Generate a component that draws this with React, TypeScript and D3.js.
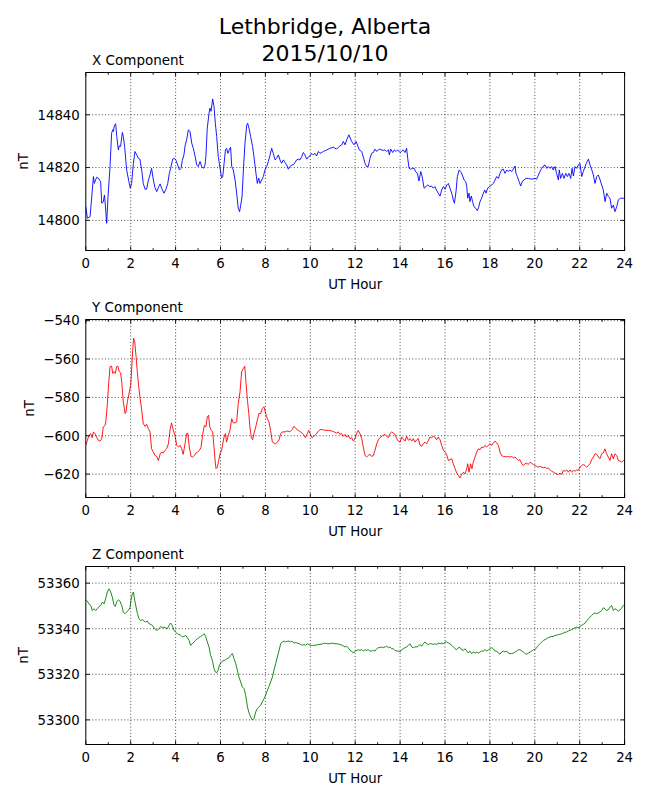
import * as d3 from 'd3';

// Magnetometer readings, [UT hour, nT]
const xComponent: [number, number][] = [
  [0, 14805.2], [0.07, 14800.8], [0.19, 14801.4], [0.34, 14816.6], [0.38, 14814], [0.48, 14816.3], [0.56, 14816],
  [0.66, 14814.7], [0.71, 14806.5], [0.78, 14807], [0.83, 14809.6], [0.87, 14805.8], [0.93, 14798.9], [0.99, 14809],
  [1.08, 14820.4], [1.15, 14833], [1.2, 14834.3], [1.23, 14833.7], [1.27, 14835.8], [1.33, 14836.6], [1.38, 14831.8],
  [1.45, 14826.7], [1.49, 14828.2], [1.55, 14828], [1.63, 14833.3], [1.67, 14831.8], [1.73, 14828], [1.82, 14819.1],
  [1.92, 14814.7], [1.98, 14812.2], [2.04, 14814], [2.12, 14821.6], [2.19, 14826.1], [2.27, 14824.8], [2.34, 14823.5],
  [2.41, 14823.2], [2.49, 14819.1], [2.56, 14814], [2.64, 14811.8], [2.71, 14811.8], [2.79, 14815.3], [2.86, 14817.2],
  [2.93, 14819.7], [3.01, 14815.3], [3.08, 14812.5], [3.16, 14810.9], [3.25, 14812.8], [3.31, 14813.8], [3.38, 14812.2],
  [3.48, 14810.3], [3.57, 14811.8], [3.65, 14814], [3.72, 14817.8], [3.78, 14819.7], [3.87, 14823.2], [3.94, 14823.5],
  [4.02, 14822.7], [4.09, 14821], [4.17, 14819.1], [4.24, 14819.7], [4.3, 14822.7], [4.37, 14824.8], [4.43, 14828.6],
  [4.49, 14830.5], [4.57, 14834.3], [4.64, 14833.7], [4.72, 14829.2], [4.79, 14827.3], [4.87, 14824.2], [4.94, 14821],
  [5.01, 14820.4], [5.09, 14822.3], [5.16, 14820.4], [5.24, 14819.7], [5.31, 14821], [5.35, 14824.2], [5.41, 14834.9],
  [5.49, 14840.6], [5.53, 14842.5], [5.58, 14841.3], [5.65, 14846], [5.71, 14843.2], [5.77, 14836.8], [5.83, 14831.8],
  [5.9, 14824.2], [5.98, 14819.7], [6.05, 14816], [6.1, 14816.6], [6.16, 14821.6], [6.22, 14826.7], [6.27, 14827.3],
  [6.33, 14825.4], [6.39, 14826.7], [6.45, 14827.7], [6.5, 14820.4], [6.57, 14819.1], [6.65, 14815.3], [6.72, 14810.3],
  [6.79, 14804.6], [6.85, 14803.3], [6.9, 14805.8], [6.96, 14809], [7.02, 14819.1], [7.09, 14829.2], [7.17, 14836.2],
  [7.21, 14836.8], [7.27, 14834.9], [7.34, 14831.8], [7.43, 14828], [7.49, 14824.2], [7.58, 14817.8], [7.64, 14814],
  [7.7, 14816], [7.76, 14814], [7.83, 14815.3], [7.91, 14816.6], [7.98, 14819.1], [8.06, 14820.4], [8.13, 14822.3],
  [8.21, 14824.8], [8.28, 14827.3], [8.35, 14825.4], [8.43, 14822.9], [8.5, 14823.5], [8.58, 14824.8], [8.65, 14822.9],
  [8.72, 14821.6], [8.8, 14822.9], [8.87, 14821.9], [8.95, 14821], [9.02, 14819.4], [9.1, 14820.4], [9.17, 14821],
  [9.24, 14821], [9.32, 14821.9], [9.39, 14822.9], [9.47, 14823.2], [9.54, 14822.9], [9.62, 14824.2], [9.69, 14825.7],
  [9.76, 14824.8], [9.84, 14823.2], [9.91, 14824], [9.99, 14824.4], [10.06, 14825.4], [10.13, 14824.8], [10.21, 14825.4],
  [10.28, 14824.4], [10.36, 14826.1], [10.43, 14825.4], [10.51, 14825.7], [10.58, 14826.1], [10.73, 14826.7],
  [10.88, 14827.3], [11.03, 14827.7], [11.17, 14827], [11.25, 14827.7], [11.32, 14828.2], [11.4, 14828.6],
  [11.47, 14829.9], [11.55, 14828.6], [11.62, 14830.5], [11.72, 14832.4], [11.84, 14829.9], [11.95, 14828.6],
  [12.04, 14829.9], [12.1, 14828.6], [12.18, 14826.7], [12.29, 14826.1], [12.36, 14824], [12.44, 14821.6],
  [12.51, 14820.4], [12.58, 14820.4], [12.66, 14823.5], [12.73, 14825.4], [12.81, 14825.7], [12.88, 14827],
  [12.96, 14826.1], [13.03, 14826.7], [13.1, 14827], [13.18, 14826.7], [13.25, 14826.5], [13.33, 14826.7],
  [13.4, 14826.1], [13.48, 14826.7], [13.52, 14824.8], [13.58, 14827], [13.67, 14825.7], [13.74, 14826.7],
  [13.82, 14826.1], [13.89, 14826.7], [14, 14825.7], [14.07, 14826.1], [14.14, 14826.7], [14.22, 14825.7],
  [14.29, 14827.3], [14.34, 14823.5], [14.4, 14819.7], [14.47, 14819.4], [14.56, 14819.7], [14.63, 14819.7],
  [14.69, 14818.5], [14.77, 14817.8], [14.84, 14814.9], [14.92, 14818.5], [14.98, 14816.6], [15.07, 14812.2],
  [15.15, 14812.8], [15.23, 14813.4], [15.33, 14812.8], [15.4, 14813], [15.48, 14812.2], [15.55, 14812.8],
  [15.63, 14811.3], [15.7, 14810.3], [15.78, 14809.2], [15.85, 14811.5], [15.93, 14812.8], [16, 14811.8],
  [16.08, 14813.4], [16.15, 14814], [16.22, 14812.2], [16.3, 14810.3], [16.37, 14807.7], [16.42, 14806.5],
  [16.49, 14810.9], [16.55, 14816.6], [16.63, 14819.1], [16.7, 14818.5], [16.77, 14817.2], [16.85, 14815.3],
  [16.92, 14814.7], [16.97, 14812.8], [17.01, 14808.4], [17.07, 14810.3], [17.11, 14807.1], [17.17, 14809.2],
  [17.23, 14807.1], [17.29, 14805.2], [17.37, 14804.6], [17.44, 14803.7], [17.5, 14805], [17.56, 14807.1],
  [17.63, 14808.4], [17.71, 14810.3], [17.77, 14811.5], [17.83, 14810.3], [17.9, 14812.2], [17.98, 14812.8],
  [18.08, 14813.4], [18.15, 14814], [18.23, 14815.3], [18.3, 14816.6], [18.38, 14815.9], [18.45, 14817.8],
  [18.52, 14819.1], [18.6, 14819.4], [18.67, 14817.8], [18.75, 14819.1], [18.82, 14818.5], [18.89, 14819.1],
  [18.97, 14818.5], [19.04, 14819.4], [19.12, 14820.6], [19.16, 14817.8], [19.22, 14816.6], [19.3, 14814.7],
  [19.37, 14813], [19.44, 14814.7], [19.52, 14815.3], [19.61, 14815.9], [19.71, 14815.9], [19.86, 14815.6],
  [20.01, 14815.9], [20.08, 14815.6], [20.16, 14817.2], [20.23, 14818.5], [20.31, 14819.7], [20.38, 14820.6],
  [20.46, 14821], [20.53, 14819.7], [20.6, 14820.4], [20.68, 14819.7], [20.75, 14820.4], [20.82, 14819.1],
  [20.9, 14820.4], [20.97, 14817.8], [21.05, 14815.3], [21.09, 14819.1], [21.15, 14815.9], [21.23, 14817.8],
  [21.3, 14815.9], [21.38, 14817.8], [21.45, 14816.6], [21.52, 14817.8], [21.6, 14815.9], [21.66, 14819.7],
  [21.72, 14816.8], [21.79, 14820.4], [21.87, 14819.7], [21.94, 14821], [22.01, 14821.6], [22.09, 14816.6],
  [22.16, 14818.5], [22.24, 14820.4], [22.31, 14821.9], [22.39, 14823.2], [22.46, 14821], [22.54, 14819.1],
  [22.61, 14817.2], [22.68, 14814], [22.76, 14816.6], [22.83, 14817.2], [22.91, 14815.3], [22.98, 14813.4],
  [23.05, 14811.5], [23.13, 14807.1], [23.2, 14810.3], [23.28, 14809], [23.35, 14808.4], [23.42, 14804.6],
  [23.5, 14805.8], [23.57, 14803.3], [23.65, 14805.2], [23.72, 14807.7], [23.8, 14808.4], [23.87, 14808.4], [24, 14808.4],
];

const yComponent: [number, number][] = [
  [0, -605], [0.07, -602.4], [0.14, -599.8], [0.22, -598.9], [0.28, -601], [0.34, -598], [0.41, -598.9], [0.48, -600.7],
  [0.56, -602.4], [0.63, -602.8], [0.71, -601.5], [0.78, -595.4], [0.86, -594.6], [0.9, -591.9], [0.96, -583.2],
  [1.02, -572.7], [1.08, -564], [1.15, -563.7], [1.2, -567.5], [1.26, -566.6], [1.32, -567.5], [1.37, -564],
  [1.43, -563.7], [1.49, -566.6], [1.55, -567.2], [1.6, -571.9], [1.67, -582.3], [1.75, -588.4], [1.79, -587.6],
  [1.85, -582.3], [1.94, -577.1], [2, -573.6], [2.04, -565.8], [2.09, -555.3], [2.13, -549.2], [2.18, -551],
  [2.24, -558.8], [2.3, -567.5], [2.35, -573.6], [2.41, -579.7], [2.49, -586.7], [2.56, -593.7], [2.64, -595.1],
  [2.71, -594], [2.79, -596.3], [2.86, -598], [2.93, -606.8], [3.01, -608.5], [3.08, -610.3], [3.16, -610.8],
  [3.23, -612.9], [3.31, -609.7], [3.38, -608.5], [3.45, -609], [3.53, -607.6], [3.6, -606.8], [3.68, -604.2],
  [3.75, -597.2], [3.82, -593.3], [3.9, -597.2], [3.97, -599.8], [4.05, -605], [4.12, -605.9], [4.2, -605],
  [4.27, -606.8], [4.34, -609.7], [4.42, -604.2], [4.49, -598.9], [4.54, -598.6], [4.61, -605.9], [4.69, -610.8],
  [4.76, -611.1], [4.84, -610.3], [4.91, -609], [4.98, -608.5], [5.06, -607.6], [5.13, -606.2], [5.2, -599.8],
  [5.28, -594.6], [5.35, -595.4], [5.41, -590.2], [5.47, -589.3], [5.52, -595.4], [5.59, -597.2], [5.65, -598],
  [5.71, -605.9], [5.76, -612.9], [5.8, -617.2], [5.86, -616.4], [5.92, -612.9], [5.98, -609.4], [6.05, -607.6],
  [6.1, -604.2], [6.16, -600.7], [6.22, -598.9], [6.27, -603.3], [6.35, -599.8], [6.42, -597.2], [6.5, -591.1],
  [6.57, -593.3], [6.65, -593.3], [6.72, -592.8], [6.79, -583.2], [6.87, -577.1], [6.94, -566.6], [7.02, -564.9],
  [7.08, -563.7], [7.14, -572.7], [7.2, -581.5], [7.26, -588.4], [7.31, -595.4], [7.37, -600.7], [7.43, -602.1],
  [7.49, -598.9], [7.57, -595.4], [7.64, -591.9], [7.71, -588.4], [7.79, -588.4], [7.86, -585.8], [7.94, -584.9],
  [8.01, -588.4], [8.09, -591.1], [8.16, -592.8], [8.23, -597.2], [8.31, -603.3], [8.38, -603.8], [8.46, -604.2],
  [8.53, -603.3], [8.61, -602.1], [8.68, -598.9], [8.75, -598], [8.87, -598], [8.98, -597.5], [9.09, -598],
  [9.19, -596.8], [9.27, -595.1], [9.36, -596.3], [9.47, -597.2], [9.57, -598], [9.69, -599.3], [9.78, -601],
  [9.87, -598.9], [9.93, -597.2], [9.99, -598.9], [10.08, -601], [10.16, -600.3], [10.25, -599.3], [10.34, -598],
  [10.43, -596.8], [10.55, -596.8], [10.65, -597.2], [10.8, -597.2], [10.95, -597.5], [11.06, -598], [11.17, -598.6],
  [11.25, -598], [11.32, -599.3], [11.4, -598.9], [11.47, -600.3], [11.55, -599.3], [11.62, -600.7], [11.69, -599.8],
  [11.77, -601.5], [11.84, -601], [11.92, -602.8], [11.99, -601.5], [12.07, -598.6], [12.14, -597.2], [12.21, -598.9],
  [12.29, -601.5], [12.36, -605.9], [12.44, -610.3], [12.51, -611.1], [12.58, -610.3], [12.66, -609.7], [12.73, -610.8],
  [12.81, -610.3], [12.88, -607.6], [12.96, -604.2], [13.03, -602.1], [13.1, -601], [13.18, -600.3], [13.25, -599.8],
  [13.33, -599.3], [13.4, -600.3], [13.48, -601], [13.55, -598.9], [13.63, -598], [13.7, -598.6], [13.77, -599.3],
  [13.85, -601.5], [13.92, -602.8], [14, -603.3], [14.07, -600.7], [14.14, -601.5], [14.22, -602.8], [14.29, -600.3],
  [14.37, -602.4], [14.44, -601.5], [14.52, -602.8], [14.59, -601.5], [14.66, -603.3], [14.74, -602.1], [14.81, -601.5],
  [14.89, -605], [14.96, -605.5], [15.03, -604.2], [15.11, -603.3], [15.18, -604.2], [15.26, -602.4], [15.33, -600.7],
  [15.4, -601], [15.48, -600.3], [15.55, -600.7], [15.63, -602.1], [15.7, -600.7], [15.78, -602.1], [15.85, -605],
  [15.93, -607.6], [16, -608.5], [16.07, -609.7], [16.15, -612.9], [16.22, -612.5], [16.3, -612], [16.37, -614.6],
  [16.45, -617.2], [16.52, -619.5], [16.6, -620.7], [16.67, -622], [16.74, -620.2], [16.82, -619], [16.89, -619.9],
  [16.97, -617.2], [17.01, -614.6], [17.07, -619], [17.14, -614.6], [17.2, -617.2], [17.26, -613.8], [17.34, -611.1],
  [17.41, -608.5], [17.49, -606.8], [17.56, -607.3], [17.63, -605.9], [17.71, -606.2], [17.78, -605], [17.86, -605.9],
  [17.93, -605], [18, -604.2], [18.08, -605], [18.15, -603.8], [18.23, -602.8], [18.3, -603.8], [18.38, -605],
  [18.45, -608.5], [18.52, -610.3], [18.6, -610.8], [18.67, -610.8], [18.75, -611.1], [18.82, -610.8], [18.89, -611.1],
  [18.97, -610.8], [19.04, -611.5], [19.12, -611.1], [19.19, -612], [19.27, -612.9], [19.34, -612.5], [19.42, -614.6],
  [19.49, -615.5], [19.56, -614.6], [19.64, -614.3], [19.71, -615], [19.79, -613.8], [19.86, -614.3], [19.94, -615],
  [20.01, -615.5], [20.08, -616], [20.16, -616.4], [20.23, -616], [20.31, -616.4], [20.38, -616.7], [20.46, -616.4],
  [20.53, -617.2], [20.6, -616.7], [20.68, -617.8], [20.75, -618.5], [20.83, -619], [20.9, -619.5], [20.97, -619.9],
  [21.05, -620.2], [21.12, -619.5], [21.2, -620.2], [21.27, -618.1], [21.35, -618.5], [21.42, -617.8], [21.49, -619],
  [21.57, -617.8], [21.64, -619], [21.72, -618.1], [21.79, -618.5], [21.87, -617.8], [21.94, -618.1], [22.01, -616.4],
  [22.09, -615.5], [22.16, -615], [22.24, -615.5], [22.31, -616.4], [22.39, -615.5], [22.46, -614.6], [22.53, -612.5],
  [22.61, -611.1], [22.68, -609.4], [22.76, -609.7], [22.83, -611.1], [22.9, -612], [22.98, -609.4], [23.05, -609],
  [23.12, -606.8], [23.2, -609.4], [23.27, -611.1], [23.35, -612.9], [23.42, -609.4], [23.5, -612], [23.57, -609.4],
  [23.65, -610.3], [23.72, -612.9], [23.8, -613.2], [23.87, -613.8], [23.94, -612.9], [24, -613.2],
];

const zComponent: [number, number][] = [
  [0, 53352.4], [0.07, 53352.1], [0.14, 53350.9], [0.22, 53350.2], [0.29, 53348], [0.37, 53348.8], [0.44, 53348],
  [0.51, 53348.8], [0.59, 53349.8], [0.66, 53350.2], [0.74, 53351.7], [0.81, 53350.9], [0.88, 53353.1], [0.96, 53356.1],
  [1.03, 53357.5], [1.11, 53356.1], [1.18, 53353.9], [1.26, 53350.2], [1.32, 53349.8], [1.37, 53351.7], [1.45, 53352.7],
  [1.52, 53352.1], [1.6, 53350.2], [1.67, 53347.3], [1.75, 53346.6], [1.82, 53347.3], [1.89, 53348], [1.97, 53349.2],
  [2.01, 53352.4], [2.07, 53355.3], [2.12, 53356.1], [2.18, 53352.4], [2.24, 53349.5], [2.3, 53346.6], [2.37, 53344.4],
  [2.44, 53343.6], [2.52, 53343.9], [2.59, 53343.4], [2.67, 53342.9], [2.74, 53343.4], [2.81, 53342.2], [2.89, 53341.9],
  [2.96, 53341.5], [3.04, 53340.4], [3.11, 53339.6], [3.19, 53339.3], [3.26, 53340], [3.34, 53341], [3.41, 53340.4],
  [3.48, 53340.7], [3.56, 53340.4], [3.63, 53340], [3.71, 53341.5], [3.78, 53342.5], [3.85, 53341.5], [3.93, 53339.3],
  [4, 53338.5], [4.08, 53337.8], [4.15, 53337.5], [4.23, 53337.1], [4.3, 53336.4], [4.37, 53336.6], [4.45, 53337.1],
  [4.52, 53336.1], [4.6, 53334.9], [4.67, 53332.7], [4.75, 53333.4], [4.82, 53334.2], [4.89, 53334.9], [4.97, 53335.6],
  [5.04, 53336.1], [5.12, 53336.6], [5.19, 53337.1], [5.27, 53337.8], [5.34, 53336.6], [5.41, 53334.2], [5.49, 53332],
  [5.56, 53328.3], [5.64, 53326.1], [5.71, 53322.5], [5.77, 53321], [5.83, 53320.6], [5.89, 53321.8], [5.95, 53323.9],
  [6.01, 53325], [6.08, 53325.8], [6.16, 53326.1], [6.23, 53326.4], [6.3, 53326.9], [6.38, 53327.3], [6.45, 53328.3],
  [6.53, 53329.1], [6.6, 53326.9], [6.68, 53324.7], [6.75, 53321.8], [6.82, 53318.8], [6.9, 53316.6], [6.97, 53314.5],
  [7.05, 53313.7], [7.12, 53310.8], [7.2, 53305.7], [7.27, 53303.1], [7.34, 53301.3], [7.42, 53299.9], [7.49, 53300.6],
  [7.57, 53303.5], [7.64, 53305], [7.71, 53305.7], [7.79, 53306.4], [7.86, 53307.9], [7.94, 53309.3], [8.01, 53310.8],
  [8.09, 53313], [8.16, 53314.7], [8.23, 53316.6], [8.31, 53318.8], [8.38, 53321.8], [8.46, 53324.7], [8.53, 53327.6],
  [8.61, 53330.5], [8.68, 53333.4], [8.75, 53334.2], [8.83, 53334.6], [8.9, 53334.2], [8.98, 53334.5], [9.05, 53334.6],
  [9.13, 53334.2], [9.2, 53334.5], [9.27, 53333.7], [9.35, 53333.9], [9.42, 53333.7], [9.5, 53333.4], [9.57, 53333.1],
  [9.65, 53332.7], [9.72, 53333.1], [9.79, 53332.7], [9.87, 53333.4], [9.94, 53333], [10.02, 53332.7], [10.09, 53332.7],
  [10.21, 53332.7], [10.31, 53333], [10.43, 53333.1], [10.55, 53333.4], [10.65, 53333.7], [10.76, 53333.4],
  [10.88, 53333.4], [10.98, 53333.7], [11.1, 53333.4], [11.2, 53333.4], [11.32, 53333.1], [11.43, 53332.7],
  [11.55, 53332], [11.62, 53332.3], [11.69, 53331.7], [11.77, 53330.5], [11.84, 53330.2], [11.92, 53329.3],
  [11.99, 53330.2], [12.07, 53330.5], [12.14, 53330.8], [12.21, 53330.5], [12.29, 53330.9], [12.36, 53330.2],
  [12.44, 53330.8], [12.51, 53330.5], [12.58, 53330.8], [12.66, 53330.2], [12.73, 53330.2], [12.81, 53330.5],
  [12.88, 53330.2], [12.96, 53331.2], [13.03, 53331.7], [13.1, 53331.7], [13.18, 53332], [13.25, 53331.7],
  [13.33, 53332], [13.4, 53332.3], [13.48, 53331.7], [13.55, 53332], [13.63, 53331.2], [13.7, 53331.2],
  [13.77, 53330.5], [13.85, 53330.2], [13.92, 53330.2], [14, 53329.8], [14.07, 53330.8], [14.14, 53331.2],
  [14.22, 53331.7], [14.29, 53332], [14.37, 53332.7], [14.44, 53333.4], [14.52, 53332], [14.59, 53331.7],
  [14.66, 53332], [14.74, 53332], [14.81, 53332.3], [14.89, 53333.1], [14.96, 53332.3], [15.03, 53333.4],
  [15.11, 53334.2], [15.18, 53333.4], [15.26, 53333.1], [15.33, 53333.4], [15.4, 53333.4], [15.48, 53333.1],
  [15.55, 53333.4], [15.63, 53333.1], [15.7, 53333.7], [15.78, 53333.4], [15.85, 53333.7], [15.93, 53333.4],
  [16, 53334.2], [16.07, 53334.2], [16.15, 53333.7], [16.22, 53333.4], [16.3, 53332.7], [16.37, 53332],
  [16.45, 53331.2], [16.52, 53330.8], [16.6, 53331.7], [16.67, 53331.7], [16.74, 53330.8], [16.82, 53330.5],
  [16.89, 53331.2], [16.97, 53330.2], [17.04, 53329.3], [17.11, 53330.2], [17.19, 53329.1], [17.26, 53329.8],
  [17.34, 53329.3], [17.41, 53329.8], [17.49, 53329.3], [17.56, 53329.8], [17.63, 53330.2], [17.71, 53330.2],
  [17.78, 53330.8], [17.86, 53330.2], [17.93, 53330.8], [18, 53331.2], [18.08, 53331.7], [18.15, 53331.2],
  [18.23, 53330.2], [18.3, 53330.2], [18.38, 53329.3], [18.45, 53328.8], [18.52, 53329.8], [18.6, 53330.2],
  [18.67, 53329.8], [18.75, 53330.2], [18.82, 53329.3], [18.89, 53329.1], [18.97, 53329.1], [19.04, 53329.3],
  [19.12, 53329.8], [19.19, 53330.2], [19.27, 53330.8], [19.34, 53330.8], [19.42, 53330.2], [19.49, 53329.8],
  [19.56, 53329.1], [19.64, 53328.8], [19.71, 53329.3], [19.79, 53329.8], [19.86, 53330.2], [19.94, 53330.8],
  [20.01, 53330.8], [20.08, 53331.7], [20.16, 53332.7], [20.23, 53333.4], [20.31, 53334.2], [20.38, 53334.9],
  [20.46, 53335.2], [20.53, 53335.6], [20.6, 53336.1], [20.68, 53336.4], [20.75, 53336.6], [20.83, 53336.6],
  [20.9, 53337.1], [20.97, 53337.1], [21.05, 53337.5], [21.12, 53337.5], [21.2, 53337.8], [21.27, 53338.1],
  [21.35, 53338.5], [21.42, 53338.5], [21.49, 53339], [21.57, 53339.3], [21.64, 53339.6], [21.72, 53340],
  [21.79, 53340.4], [21.87, 53340.7], [21.94, 53340.4], [22.01, 53341], [22.09, 53341.5], [22.16, 53341.9],
  [22.24, 53342.5], [22.31, 53343.4], [22.39, 53344.4], [22.46, 53345.1], [22.53, 53345.8], [22.61, 53346.6],
  [22.68, 53346.9], [22.76, 53346.6], [22.83, 53346.9], [22.9, 53347.3], [22.98, 53348], [23.05, 53349.2],
  [23.12, 53348.8], [23.2, 53348], [23.27, 53348.3], [23.35, 53349.5], [23.42, 53350.2], [23.5, 53348],
  [23.57, 53348.8], [23.65, 53348.3], [23.72, 53347.7], [23.8, 53348.3], [23.87, 53349.2], [23.94, 53350.2], [24, 53350.5],
];

// axis ticks and limits
const hourTicks = [0, 2, 4, 6, 8, 10, 12, 14, 16, 18, 20, 22, 24];
const hourMinorTicks = [1, 3, 5, 7, 9, 11, 13, 15, 17, 19, 21, 23];
const xTicks = [14800, 14820, 14840];
const yTicks = [-620, -600, -580, -560, -540];
const zTicks = [53300, 53320, 53340, 53360];
const xLimits: [number, number] = [14788.6, 14856];
const yLimits: [number, number] = [-632.2, -539.4];
const zLimits: [number, number] = [53289.2, 53367.3];

const FONT = '"DejaVu Sans", Verdana, sans-serif';
const LEFT = 85.8, RIGHT = 624.6, PANEL_H = 178;

const fmt = (v: number) => (v < 0 ? '\u2212' + Math.abs(v) : String(v));

interface PanelProps {
  id: string;
  title: string;
  data: [number, number][];
  color: string;
  limits: [number, number];
  ticks: number[];
  top: number;
  labelX: number;
}

const Panel = ({ id, title, data, color, limits, ticks, top, labelX }: PanelProps) => {
  const bottom = top + PANEL_H;
  const x = d3.scaleLinear().domain([0, 24]).range([LEFT, RIGHT]);
  const y = d3.scaleLinear().domain(limits).range([bottom, top]);
  const line = d3.line<[number, number]>().x(d => x(d[0])).y(d => y(d[1]));

  return (
    <g>
      <clipPath id={`clip-${id}`}>
        <rect x={LEFT} y={top} width={RIGHT - LEFT} height={PANEL_H} />
      </clipPath>
      <path d={line(data) ?? ''} fill="none" stroke={color} strokeWidth={0.9}
        strokeLinejoin="round" clipPath={`url(#clip-${id})`} />

      {/* dotted grid */}
      <g stroke="#000" strokeWidth={0.7} strokeDasharray="1,2.2">
        {hourTicks.slice(1, -1).map(h => (
          <line key={h} x1={x(h)} x2={x(h)} y1={top} y2={bottom} />
        ))}
        {ticks.map(t => (
          <line key={t} x1={LEFT} x2={RIGHT} y1={y(t)} y2={y(t)} />
        ))}
      </g>

      {/* ticks, pointing inward on all four sides */}
      <g stroke="#000" strokeWidth={0.9}>
        {hourTicks.map(h => (
          <g key={h}>
            <line x1={x(h)} x2={x(h)} y1={bottom} y2={bottom - 4} />
            <line x1={x(h)} x2={x(h)} y1={top} y2={top + 4} />
          </g>
        ))}
        {hourMinorTicks.map(h => (
          <g key={h}>
            <line x1={x(h)} x2={x(h)} y1={bottom} y2={bottom - 2.3} />
            <line x1={x(h)} x2={x(h)} y1={top} y2={top + 2.3} />
          </g>
        ))}
        {ticks.map(t => (
          <g key={t}>
            <line x1={LEFT} x2={LEFT + 4} y1={y(t)} y2={y(t)} />
            <line x1={RIGHT} x2={RIGHT - 4} y1={y(t)} y2={y(t)} />
          </g>
        ))}
      </g>

      <rect x={LEFT} y={top} width={RIGHT - LEFT} height={PANEL_H}
        fill="none" stroke="#000" strokeWidth={1} />

      <g fontFamily={FONT} fontSize={13.3} fill="#000">
        {hourTicks.map(h => (
          <text key={h} x={x(h)} y={bottom + 17} textAnchor="middle">{h}</text>
        ))}
        {ticks.map(t => (
          <text key={t} x={LEFT - 6} y={y(t) + 4.8} textAnchor="end">{fmt(t)}</text>
        ))}
        <text x={(LEFT + RIGHT) / 2} y={bottom + 38} textAnchor="middle">UT Hour</text>
        <text transform={`translate(${labelX},${(top + bottom) / 2}) rotate(-90)`} textAnchor="middle">nT</text>
        <text x={92} y={top - 7.5} fontSize={13.5}>{title}</text>
      </g>
    </g>
  );
};

export default function App() {
  return (
    <svg width={650} height={800} style={{ position: 'absolute', left: 0, top: 0, background: '#fff' }}>
      <rect width={650} height={800} fill="#fff" />
      <g fontFamily={FONT} fontSize={22} textAnchor="middle" fill="#000">
        <text x={325} y={34}>Lethbridge, Alberta</text>
        <text x={325} y={61}>2015/10/10</text>
      </g>
      <Panel id="x" title="X Component" data={xComponent} color="#0000ff"
        limits={xLimits} ticks={xTicks} top={72.5} labelX={28} />
      <Panel id="y" title="Y Component" data={yComponent} color="#ff0000"
        limits={yLimits} ticks={yTicks} top={319.5} labelX={33.5} />
      <Panel id="z" title="Z Component" data={zComponent} color="#008000"
        limits={zLimits} ticks={zTicks} top={566.5} labelX={28} />
    </svg>
  );
}
